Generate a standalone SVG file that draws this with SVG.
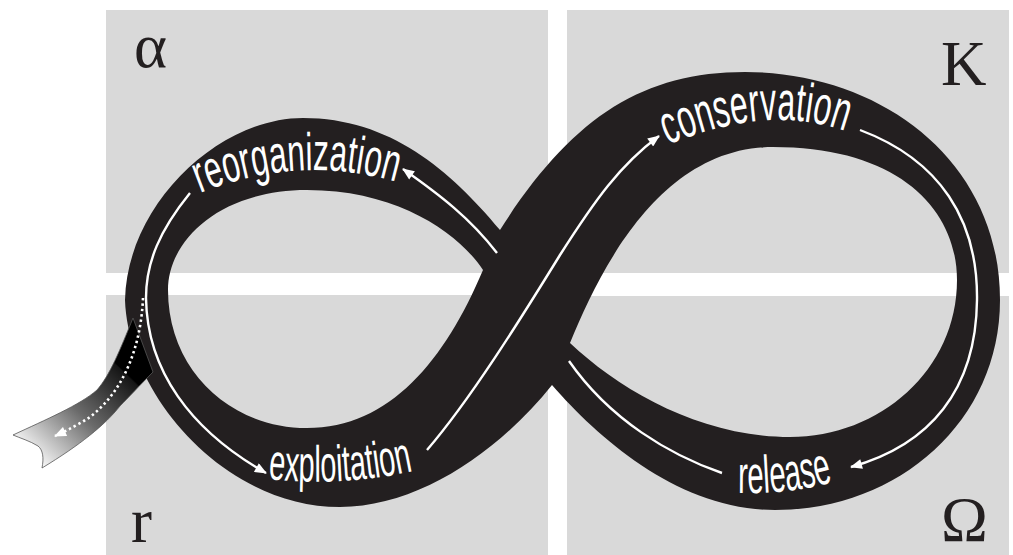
<svg xmlns="http://www.w3.org/2000/svg" width="1013" height="555" viewBox="0 0 1013 555">
<defs>
<style>
.panel{fill:#d9d9d9}
.band{fill:#231f20;fill-rule:evenodd}
.flow{fill:none;stroke:#fff;stroke-width:2.4}
.dots{fill:none;stroke:#fff;stroke-width:2.6;stroke-dasharray:2.4 3}
.lbl{font-family:"Liberation Sans",Arial,sans-serif;fill:#fff}
.phase{font-family:"Liberation Serif","Times New Roman",serif;font-size:63px;fill:#231f20}
</style>
<marker id="ah" viewBox="0 0 12 10" refX="11" refY="5" markerWidth="13" markerHeight="10" orient="auto" markerUnits="userSpaceOnUse"><path d="M0,0 L12,5 L0,10 Z" fill="#fff"/></marker>
<linearGradient id="tailg" gradientUnits="userSpaceOnUse" x1="130" y1="345" x2="25" y2="455">
<stop offset="0" stop-color="#000"/><stop offset="0.15" stop-color="#000"/><stop offset="0.16" stop-color="#151515"/><stop offset="0.55" stop-color="#6a6a6a"/><stop offset="1" stop-color="#fff"/>
</linearGradient>
<path id="p-reorg" d="M 200,193 Q 300,153 400,183"/>
<path id="p-cons" d="M 668,145 Q 770,102 850,133"/>
<path id="p-expl" d="M 268,479 Q 340,487 414,471"/>
<path id="p-rel" d="M 738,493 Q 790,494 834,482"/>
</defs>

<g id="panels">
<rect class="panel" x="106" y="10" width="442" height="263"/>
<rect class="panel" x="567" y="10" width="442" height="263"/>
<rect class="panel" x="106" y="295" width="442" height="260"/>
<rect class="panel" x="567" y="296" width="442" height="259"/>
</g>

<g id="loop">
<path class="band" d="M 500,230 C 450,170 390,118 303,118 C 218,118 127,205 125,300 C 128,395 225,507 340,507 C 420,507 500,450 552,385 C 600,440 680,510 775,510 C 900,510 1000,420 1000,300 C 1000,160 880,72 745,72 C 640,72 570,120 500,230 Z
M 483,270 C 460,235 400,190 307,190 C 220,190 168,240 168,290 C 168,370 230,428 307,428 C 390,428 445,360 483,270 Z
M 570,343 C 600,270 660,147 773,147 C 900,147 957,210 957,280 C 957,370 880,437 790,437 C 700,437 620,390 570,343 Z"/>
</g>

<g id="tail">
<path d="M 133,318 L 153,372 C 140,385 128,398 120,406 C 105,425 80,445 42,468 C 44,458 43,450 38,446 C 30,441 20,438 13,435 C 45,420 80,405 97,390 C 110,375 120,350 133,318 Z" fill="url(#tailg)" stroke="#555" stroke-width="0.8"/>
</g>

<g id="connectors">
<path class="flow" d="M 190,193 C 160,230 146,262 146,298 C 147,370 190,430 266,473" marker-end="url(#ah)"/>
<path class="flow" d="M 427,450 C 470,400 520,320 560,255 C 595,200 620,165 659,136" marker-end="url(#ah)"/>
<path class="flow" d="M 860,130 C 940,160 978,220 977,300 C 976,390 930,445 851,467" marker-end="url(#ah)"/>
<path class="flow" d="M 722,473 C 670,455 610,420 569,361"/>
<path class="flow" d="M 497,253 C 470,218 440,195 403,169" marker-end="url(#ah)"/>
<path class="dots" d="M 143,298 C 141,345 125,390 90,417 Q 75,427 55,436" marker-end="url(#ah)"/>
</g>

<g id="label-reorganization">
<text class="lbl" font-size="53"><textPath href="#p-reorg" textLength="200" lengthAdjust="spacingAndGlyphs">reorganization</textPath></text>
</g>
<g id="label-conservation">
<text class="lbl" font-size="55"><textPath href="#p-cons" textLength="182" lengthAdjust="spacingAndGlyphs">conservation</textPath></text>
</g>
<g id="label-exploitation">
<text class="lbl" font-size="51"><textPath href="#p-expl" textLength="146" lengthAdjust="spacingAndGlyphs">exploitation</textPath></text>
</g>
<g id="label-release">
<text class="lbl" font-size="53"><textPath href="#p-rel" textLength="96" lengthAdjust="spacingAndGlyphs">release</textPath></text>
</g>

<g id="phase-alpha"><text class="phase" x="134" y="67">α</text></g>
<g id="phase-K"><text class="phase" x="941" y="85">K</text></g>
<g id="phase-r"><text class="phase" x="131" y="542">r</text></g>
<g id="phase-omega"><text class="phase" x="941" y="541">Ω</text></g>
</svg>
